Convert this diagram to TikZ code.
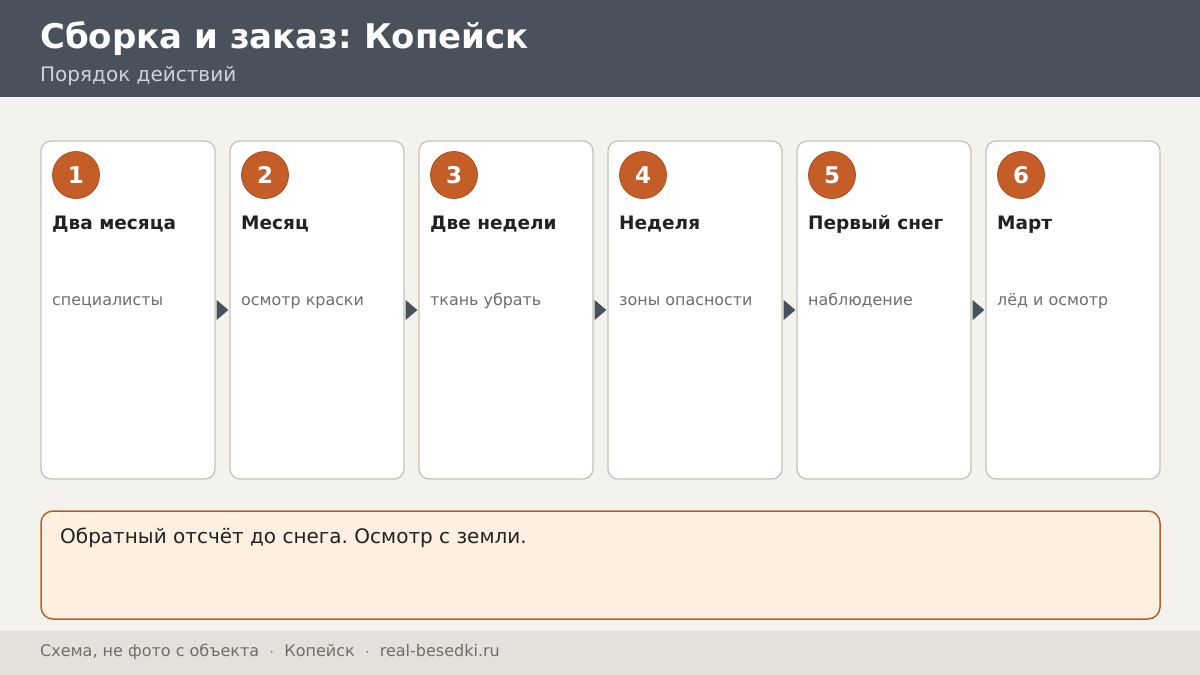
\documentclass[tikz,border=0pt]{standalone}
\usepackage{fontspec}
\setmainfont{DejaVu Sans}
\usetikzlibrary{calc}
\frenchspacing
\definecolor{pagebg}{HTML}{F4F2ED}
\definecolor{headbg}{HTML}{48515C}
\definecolor{subfg}{HTML}{CCD5DE}
\definecolor{cardline}{HTML}{C6C2BA}
\definecolor{badgefill}{HTML}{C45D27}
\definecolor{badgeline}{HTML}{A9501F}
\definecolor{titlefg}{HTML}{222222}
\definecolor{descfg}{HTML}{6E6E6E}
\definecolor{notefill}{HTML}{FEF0E1}
\definecolor{noteline}{HTML}{B5602C}
\definecolor{footbg}{HTML}{E4E1DA}
\tikzset{
  card/.style={draw=cardline, line width=1.3pt, fill=white, rounded corners=10pt,
    minimum width=174pt, minimum height=338pt, inner sep=0pt},
  badge/.style={circle, fill=badgefill, draw=badgeline, line width=0.8pt, minimum size=47pt,
    inner sep=0pt, text=white, font=\fontsize{23}{26}\selectfont\bfseries},
  steptitle/.style={anchor=base west, inner sep=0pt, text=titlefg, font=\fontsize{18.5}{22}\selectfont\bfseries},
  stepdesc/.style={anchor=base west, inner sep=0pt, text=descfg, font=\fontsize{15.9}{19}\selectfont},
  arrowfill/.style={fill=headbg},
}
\begin{document}
\begin{tikzpicture}[x=1pt, y=-1pt]
\useasboundingbox (0,0) rectangle (1200,675);
\fill[pagebg] (0,0) rectangle (1200,675);
\fill[headbg] (0,0) rectangle (1200,97);
\fill[footbg] (0,631) rectangle (1200,675);
\node[anchor=base west, inner sep=0pt, text=white, font=\fontsize{34}{38}\selectfont\bfseries] (title) at (40,48) {Сборка и заказ: Копейск};
\node[anchor=base west, inner sep=0pt, text=subfg, font=\fontsize{20}{23}\selectfont] (subtitle) at (40,81) {Порядок действий};

\node[card] (c1) at (128,310) {};
\node[badge] (b1) at (76,175) {1};
\node[steptitle] (t1) at (52,229) {Два месяца};
\node[stepdesc] (d1) at (52,305) {специалисты};

\node[card] (c2) at (317,310) {};
\node[badge] (b2) at (265,175) {2};
\node[steptitle] (t2) at (241,229) {Месяц};
\node[stepdesc] (d2) at (241,305) {осмотр краски};

\node[card] (c3) at (506,310) {};
\node[badge] (b3) at (454,175) {3};
\node[steptitle] (t3) at (430,229) {Две недели};
\node[stepdesc] (d3) at (430,305) {ткань убрать};

\node[card] (c4) at (695,310) {};
\node[badge] (b4) at (643,175) {4};
\node[steptitle] (t4) at (619,229) {Неделя};
\node[stepdesc] (d4) at (619,305) {зоны опасности};

\node[card] (c5) at (884,310) {};
\node[badge] (b5) at (832,175) {5};
\node[steptitle] (t5) at (808,229) {Первый снег};
\node[stepdesc] (d5) at (808,305) {наблюдение};

\node[card] (c6) at (1073,310) {};
\node[badge] (b6) at (1021,175) {6};
\node[steptitle] (t6) at (997,229) {Март};
\node[stepdesc] (d6) at (997,305) {лёд и осмотр};

% arrows between the cards
\fill[arrowfill] ($(c1.east)+(1,-10)$) -- ($(c2.west)+(-1,0)$) -- ($(c1.east)+(1,10)$) -- cycle;
\fill[arrowfill] ($(c2.east)+(1,-10)$) -- ($(c3.west)+(-1,0)$) -- ($(c2.east)+(1,10)$) -- cycle;
\fill[arrowfill] ($(c3.east)+(1,-10)$) -- ($(c4.west)+(-1,0)$) -- ($(c3.east)+(1,10)$) -- cycle;
\fill[arrowfill] ($(c4.east)+(1,-10)$) -- ($(c5.west)+(-1,0)$) -- ($(c4.east)+(1,10)$) -- cycle;
\fill[arrowfill] ($(c5.east)+(1,-10)$) -- ($(c6.west)+(-1,0)$) -- ($(c5.east)+(1,10)$) -- cycle;

\node[draw=noteline, line width=1.5pt, fill=notefill, rounded corners=12pt, minimum width=1119pt,
  minimum height=108pt, inner sep=0pt] (note) at (600.5,565) {};
\node[anchor=base west, inner sep=0pt, text=titlefg, font=\fontsize{20}{24}\selectfont] (notetext) at (60,543) {Обратный отсчёт до снега. Осмотр с земли.};

\node[anchor=base west, inner sep=0pt, text=descfg, font=\fontsize{16}{19}\selectfont] (foot) at (40,656) {Схема, не фото с объекта \ $\cdot$ \ Копейск \ $\cdot$ \ real-besedki.ru};
\end{tikzpicture}
\end{document}
